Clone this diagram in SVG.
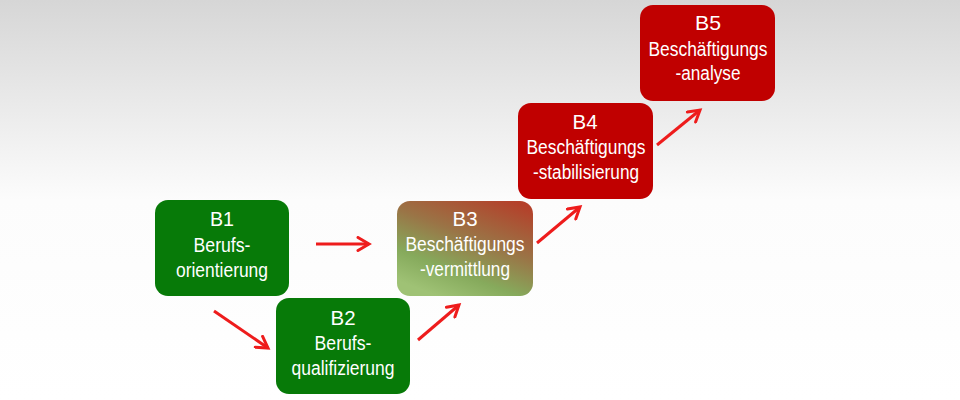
<svg xmlns="http://www.w3.org/2000/svg" width="960" height="400" viewBox="0 0 960 400">
<defs>
<linearGradient id="bg" x1="0" y1="0" x2="0" y2="1">
<stop offset="0" stop-color="#d6d6d6"/>
<stop offset="0.5" stop-color="#fcfcfc"/>
<stop offset="1" stop-color="#ffffff"/>
</linearGradient>
<linearGradient id="g3" x1="0.85" y1="0" x2="0.3" y2="1">
<stop offset="0" stop-color="#b4402a"/>
<stop offset="0.42" stop-color="#9a7446"/>
<stop offset="0.75" stop-color="#86aa5c"/>
<stop offset="1" stop-color="#9fc275"/>
</linearGradient>
<marker id="ah" viewBox="0 0 16 16" refX="13" refY="8" markerWidth="16" markerHeight="16" markerUnits="userSpaceOnUse" orient="auto">
<path d="M2,1.5 L13,8 L2,14.5" fill="none" stroke="#ee1c1c" stroke-width="3" stroke-linecap="round" stroke-linejoin="miter"/>
</marker>
<style>
.box{stroke:none}
.green{fill:#077a08}
.red{fill:#c00000}
.t{font-family:"Liberation Sans",Arial,sans-serif;font-size:20px;fill:#ffffff;text-anchor:middle}
.h{font-size:21px}
.arr{stroke:#ee1c1c;stroke-width:3;fill:none;marker-end:url(#ah)}
</style>
</defs>
<rect x="0" y="0" width="960" height="400" fill="url(#bg)"/>
<g id="B1">
<rect class="box green" x="155" y="200" width="134" height="96" rx="13"/>
<text class="t h" x="222" y="226" textLength="24" lengthAdjust="spacingAndGlyphs">B1</text>
<text class="t" x="222" y="252" textLength="57" lengthAdjust="spacingAndGlyphs">Berufs-</text>
<text class="t" x="222" y="277" textLength="92" lengthAdjust="spacingAndGlyphs">orientierung</text>
</g>
<g id="B2">
<rect class="box green" x="276" y="298" width="134" height="96" rx="13"/>
<text class="t h" x="343" y="325" textLength="25" lengthAdjust="spacingAndGlyphs">B2</text>
<text class="t" x="343" y="350" textLength="57" lengthAdjust="spacingAndGlyphs">Berufs-</text>
<text class="t" x="343" y="375" textLength="103" lengthAdjust="spacingAndGlyphs">qualifizierung</text>
</g>
<g id="B3">
<rect class="box" fill="url(#g3)" x="397" y="201" width="136" height="95" rx="13"/>
<text class="t h" x="465" y="226" textLength="25" lengthAdjust="spacingAndGlyphs">B3</text>
<text class="t" x="465" y="251" textLength="119" lengthAdjust="spacingAndGlyphs">Beschäftigungs</text>
<text class="t" x="465" y="276" textLength="90" lengthAdjust="spacingAndGlyphs">-vermittlung</text>
</g>
<g id="B4">
<rect class="box red" x="518" y="103" width="135" height="96" rx="13"/>
<text class="t h" x="585" y="129" textLength="25" lengthAdjust="spacingAndGlyphs">B4</text>
<text class="t" x="586" y="154" textLength="119" lengthAdjust="spacingAndGlyphs">Beschäftigungs</text>
<text class="t" x="586" y="179" textLength="106" lengthAdjust="spacingAndGlyphs">-stabilisierung</text>
</g>
<g id="B5">
<rect class="box red" x="640" y="5" width="135" height="96" rx="13"/>
<text class="t h" x="708" y="30" textLength="26" lengthAdjust="spacingAndGlyphs">B5</text>
<text class="t" x="708" y="56" textLength="119" lengthAdjust="spacingAndGlyphs">Beschäftigungs</text>
<text class="t" x="708" y="80" textLength="65" lengthAdjust="spacingAndGlyphs">-analyse</text>
</g>
<g id="connectors">
<line class="arr" x1="316" y1="244" x2="369" y2="244"/>
<line class="arr" x1="214" y1="311" x2="268" y2="348"/>
<line class="arr" x1="418" y1="340" x2="459" y2="305"/>
<line class="arr" x1="537" y1="243" x2="580" y2="207"/>
<line class="arr" x1="657" y1="145" x2="700" y2="110"/>
</g>
</svg>
